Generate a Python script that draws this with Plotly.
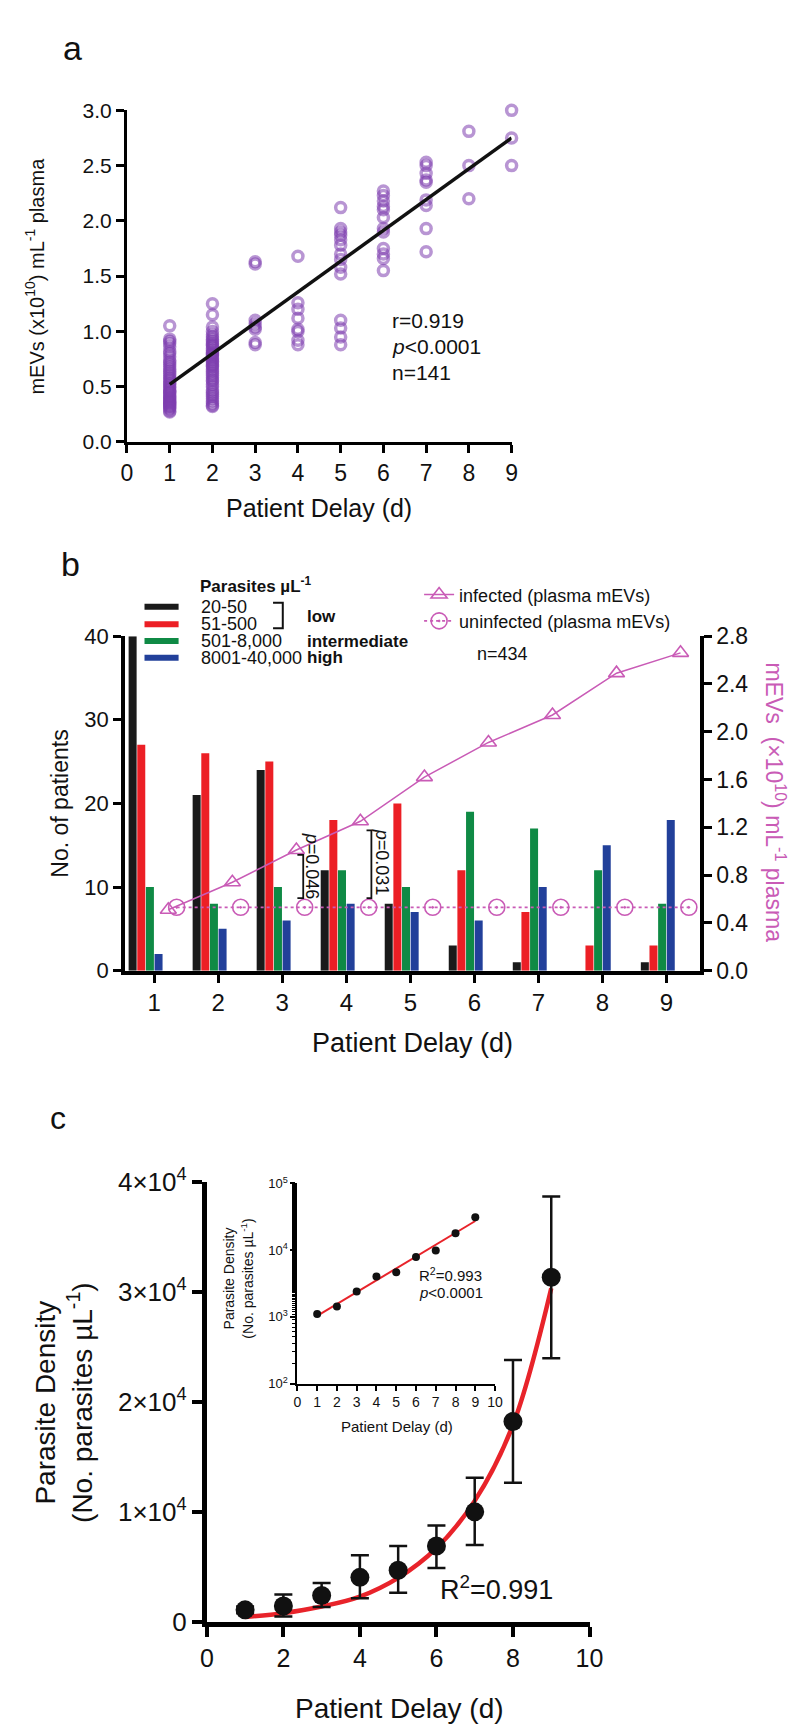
import plotly.graph_objects as go

W, H = 800, 1730
FONT = "Liberation Sans, Arial, sans-serif"
PINK = "#c95bb6"
PURPLE = "rgba(125, 62, 175, 0.55)"
BAR_COLORS = ["#1a1a1a", "#ec1f25", "#0f8a45", "#22409a"]


def px(x):
    return x / W


def py(y):
    return 1 - y / H


# ---- panel a: mEVs vs patient delay (one list per day)
a_day1 = [1.05, 0.93, 0.91, 0.89, 0.86, 0.82, 0.80, 0.77, 0.74, 0.72, 0.70, 0.68, 0.66, 0.64,
          0.62, 0.60, 0.58, 0.57, 0.55, 0.53, 0.52, 0.50, 0.49, 0.47, 0.46, 0.45, 0.44, 0.42,
          0.41, 0.40, 0.39, 0.38, 0.37, 0.36, 0.35, 0.34, 0.33, 0.32, 0.31, 0.30, 0.28, 0.27]
a_day2 = [1.25, 1.15, 1.04, 1.00, 0.97, 0.95, 0.93, 0.91, 0.89, 0.88, 0.87, 0.85, 0.83, 0.81,
          0.80, 0.79, 0.78, 0.76, 0.75, 0.73, 0.72, 0.70, 0.69, 0.68, 0.66, 0.64, 0.62, 0.60,
          0.58, 0.56, 0.55, 0.52, 0.50, 0.47, 0.45, 0.43, 0.41, 0.39, 0.37, 0.35, 0.33, 0.32]
a_day3 = [1.63, 1.61, 1.10, 1.07, 1.04, 1.02, 0.90, 0.88]
a_day4 = [1.68, 1.26, 1.20, 1.12, 1.02, 1.00, 0.92, 0.88]
a_day5 = [2.12, 1.93, 1.90, 1.87, 1.83, 1.78, 1.70, 1.65, 1.58, 1.52, 1.10, 1.03, 0.95, 0.88]
a_day6 = [2.27, 2.23, 2.18, 2.13, 2.10, 2.03, 1.93, 1.90, 1.75, 1.70, 1.66, 1.55]
a_day7 = [2.53, 2.50, 2.43, 2.37, 2.35, 2.19, 2.14, 1.93, 1.72]
a_day8 = [2.81, 2.50, 2.20]
a_day9 = [3.00, 2.75, 2.50]
a_fit_x = [1, 9]
a_fit_y = [0.52, 2.75]

# ---- panel b: patients per parasite density group + plasma mEVs
b_days = [1, 2, 3, 4, 5, 6, 7, 8, 9]
b_groups = ["20-50", "51-500", "501-8,000", "8001-40,000"]
b_20_50 = [40, 21, 24, 12, 8, 3, 1, 0, 1]
b_51_500 = [27, 26, 25, 18, 20, 12, 7, 3, 3]
b_501_8000 = [10, 8, 10, 12, 10, 19, 17, 12, 8]
b_8001_40000 = [2, 5, 6, 8, 7, 6, 10, 15, 18]
b_infected = [0.51, 0.74, 1.01, 1.25, 1.62, 1.91, 2.14, 2.49, 2.66]
b_uninfected = [0.53, 0.53, 0.53, 0.53, 0.53, 0.53, 0.53, 0.53, 0.53]

# ---- panel c: parasite density vs patient delay
c_days = [1, 2, 3, 4, 5, 6, 7, 8, 9]
c_mean = [1100, 1450, 2400, 4050, 4700, 6900, 10000, 18200, 31300]
c_upper = [1400, 2500, 3550, 6050, 6900, 8750, 13100, 23800, 38650]
c_lower = [800, 500, 1350, 2150, 2650, 4900, 7000, 12650, 23950]
c_fit = [450, 800, 1400, 2300, 4000, 6700, 11000, 17900, 30300]
inset_mean = [1107, 1436, 2410, 4050, 4650, 7890, 9900, 17900, 31300]
inset_fit_x = [1, 9]
inset_fit_y = [1035, 27400]

fig = go.Figure()

# panel a
a_lists = [a_day1, a_day2, a_day3, a_day4, a_day5, a_day6, a_day7, a_day8, a_day9]
a_x, a_y = [], []
for d, vals in enumerate(a_lists, start=1):
    a_x += [d] * len(vals)
    a_y += vals
fig.add_trace(go.Scatter(x=a_x, y=a_y, mode="markers", xaxis="x", yaxis="y", cliponaxis=False,
                         marker=dict(symbol="circle-open", size=10, color=PURPLE, line=dict(width=3.5)),
                         showlegend=False))
fig.add_trace(go.Scatter(x=a_fit_x, y=a_fit_y, mode="lines", xaxis="x", yaxis="y",
                         line=dict(color="#111111", width=3.5), showlegend=False))

# panel b bars (offset inside each day group)
bar_w = 0.125
for i, (vals, col) in enumerate(zip([b_20_50, b_51_500, b_501_8000, b_8001_40000], BAR_COLORS)):
    fig.add_trace(go.Bar(x=b_days, y=vals, xaxis="x2", yaxis="y2", width=bar_w,
                         offset=-0.40 + i * 0.135, marker=dict(color=col, line=dict(width=0)),
                         name=b_groups[i], showlegend=False))

fig.add_trace(go.Scatter(x=[d + 0.22 for d in b_days], y=b_infected, xaxis="x2", yaxis="y3",
                         mode="lines+markers", name="infected (plasma mEVs)", cliponaxis=False,
                         line=dict(color=PINK, width=1.5),
                         marker=dict(symbol="triangle-up-open", size=14, color=PINK, line=dict(width=1.6))))
fig.add_trace(go.Scatter(x=[d + 0.35 for d in b_days], y=b_uninfected, xaxis="x2", yaxis="y3",
                         mode="lines+markers", name="uninfected (plasma mEVs)", cliponaxis=False,
                         line=dict(color=PINK, width=1.8, dash="dot"),
                         marker=dict(symbol="circle-open-dot", size=16, color=PINK, line=dict(width=1.6))))

# panel c main
fig.add_trace(go.Scatter(x=c_days, y=c_fit, mode="lines", xaxis="x4", yaxis="y4",
                         line=dict(color="#e8232a", width=4.5, shape="spline"), showlegend=False))
fig.add_trace(go.Scatter(x=c_days, y=c_mean, mode="markers", xaxis="x4", yaxis="y4", cliponaxis=False,
                         marker=dict(color="#111111", size=19),
                         error_y=dict(type="data", symmetric=False,
                                      array=[u - m for u, m in zip(c_upper, c_mean)],
                                      arrayminus=[m - l for m, l in zip(c_mean, c_lower)],
                                      color="#111111", thickness=2.5, width=9),
                         showlegend=False))

# panel c inset
fig.add_trace(go.Scatter(x=inset_fit_x, y=inset_fit_y, mode="lines", xaxis="x5", yaxis="y5",
                         line=dict(color="#e8232a", width=2), showlegend=False))
fig.add_trace(go.Scatter(x=c_days, y=inset_mean, mode="markers", xaxis="x5", yaxis="y5",
                         marker=dict(color="#111111", size=8), showlegend=False))

ax = dict(showgrid=False, zeroline=False, showline=True, linecolor="black", ticks="outside",
          tickcolor="black", fixedrange=True)

sup = lambda n: f"<sup>{n}</sup>"

fig.update_layout(
    width=W, height=H, margin=dict(l=0, r=0, t=0, b=0),
    paper_bgcolor="white", plot_bgcolor="rgba(0,0,0,0)",
    font=dict(family=FONT, color="#111111", size=18),
    barmode="overlay",
    xaxis=dict(ax, domain=[px(115), px(510)], anchor="y", range=[0, 9], dtick=1,
               linewidth=3, tickwidth=3, ticklen=8, tickfont=dict(size=23)),
    yaxis=dict(ax, domain=[py(424), py(86)], anchor="x", range=[0, 3], dtick=0.5, tickformat=".1f",
               linewidth=3, tickwidth=3, ticklen=8, tickfont=dict(size=21)),
    xaxis2=dict(ax, domain=[px(113), px(703)], anchor="y2", range=[0.544, 9.517],
                tickvals=b_days, linewidth=4, tickwidth=3, ticklen=8, tickfont=dict(size=24)),
    yaxis2=dict(ax, domain=[py(963), py(622)], anchor="x2", range=[0, 40], dtick=10,
                linewidth=4, tickwidth=3, ticklen=8, tickfont=dict(size=22)),
    yaxis3=dict(ax, overlaying="y2", side="right", anchor="x2", range=[0, 2.8], dtick=0.4,
                tickformat=".1f", linewidth=4, tickwidth=3, ticklen=8, tickfont=dict(size=23)),
    xaxis4=dict(ax, domain=[px(197), px(590)], anchor="y4", range=[0, 10], dtick=2,
                linewidth=5, tickwidth=4, ticklen=10, tickfont=dict(size=25)),
    yaxis4=dict(ax, domain=[py(1627), py(1178)], anchor="x4", range=[0, 40000],
                tickvals=[0, 10000, 20000, 30000, 40000],
                ticktext=["0"] + [f"{k}×10{sup(4)}" for k in (1, 2, 3, 4)],
                linewidth=5, tickwidth=4, ticklen=10, tickfont=dict(size=26)),
    xaxis5=dict(ax, domain=[px(290), px(493)], anchor="y5", range=[0, 10], dtick=1,
                linewidth=2, tickwidth=1.5, ticklen=5, tickfont=dict(size=14)),
    yaxis5=dict(ax, domain=[py(1384), py(1180)], anchor="x5", type="log", range=[2, 5],
                tickvals=[100, 1000, 10000, 100000],
                ticktext=[f"10{sup(k)}" for k in (2, 3, 4, 5)],
                linewidth=2, tickwidth=1.5, ticklen=5, tickfont=dict(size=13),
                minor=dict(ticks="outside", ticklen=3, tickwidth=1, tickcolor="black", showgrid=False)),
    legend=dict(x=px(415), y=py(561), xanchor="left", yanchor="top", bgcolor="rgba(0,0,0,0)",
                font=dict(size=18, family=FONT), tracegroupgap=0),
)


def note(x, y, text, size, xanchor="left", angle=0, color="#111111", bold=False):
    if bold:
        text = f"<b>{text}</b>"
    return dict(x=px(x), y=py(y), xref="paper", yref="paper", text=text, showarrow=False,
                xanchor=xanchor, yanchor="middle", textangle=angle,
                font=dict(size=size, color=color, family=FONT))


notes = [
    note(59, 22, "a", 34, "center"),
    note(57, 548, "b", 34, "center"),
    note(44, 1113, "c", 32, "center"),
    # panel a
    note(20, 255, f"mEVs (x10{sup(10)}) mL{sup('-1')} plasma", 20, "center", -90),
    note(312, 491, "Patient Delay (d)", 25, "center"),
    note(385, 300, "r=0.919", 21),
    note(385, 327, "<i>p</i>&lt;0.0001", 21),
    note(385, 353, "n=141", 21),
    # panel b
    note(46, 793, "No. of patients", 23, "center", -90),
    note(408, 1037, "Patient Delay (d)", 27, "center"),
    note(781, 792, f"mEVs  (×10{sup(10)}) mL{sup('-1')} plasma", 23, "center", 90, PINK),
    note(188, 570, f"Parasites µL{sup('-1')}", 17, bold=True),
    note(298, 602, "low", 17, bold=True),
    note(298, 627, "intermediate", 17, bold=True),
    note(298, 644, "high", 17, bold=True),
    note(472, 640, "n=434", 18),
    note(305, 857, "<i>p</i>=0.046", 18, "center", 90),
    note(377, 852, "<i>p</i>=0.031", 18, "center", 90),
    # panel c
    note(50, 1403, f"Parasite Density<br>(No. parasites µL{sup('-1')})", 28, "center", -90),
    note(395, 1715, "Patient Delay (d)", 28, "center"),
    note(434, 1592, f"R{sup(2)}=0.991", 27),
    note(229, 1277, f"Parasite Density<br>(No. parasites µL{sup('-1')})", 14, "center", -90),
    note(392, 1428, "Patient Delay (d)", 15, "center"),
    note(413, 1273, f"R{sup(2)}=0.993", 15),
    note(413, 1291, "<i>p</i>&lt;0.0001", 15),
]
for label, y in zip(b_groups, [592, 610, 627, 644]):
    notes.append(note(189, y, label, 18))
fig.update_layout(annotations=notes)

shapes = []
for col, y in zip(BAR_COLORS, [592, 610, 627, 644]):
    shapes.append(dict(type="line", xref="paper", yref="paper", x0=px(133), x1=px(168),
                       y0=py(y), y1=py(y), line=dict(color=col, width=6)))


def bracket(x_in, x_out, y0, y1, w=1.8):
    return dict(type="path", xref="paper", yref="paper",
                path=f"M{px(x_in)},{py(y0)} L{px(x_out)},{py(y0)} L{px(x_out)},{py(y1)} L{px(x_in)},{py(y1)}",
                line=dict(color="#111111", width=w))


shapes.append(bracket(265, 275, 588, 614, 2))
shapes.append(bracket(290, 296, 845, 889))
shapes.append(bracket(361, 366, 820, 889))
fig.update_layout(shapes=shapes)

fig.write_html("out.html")
